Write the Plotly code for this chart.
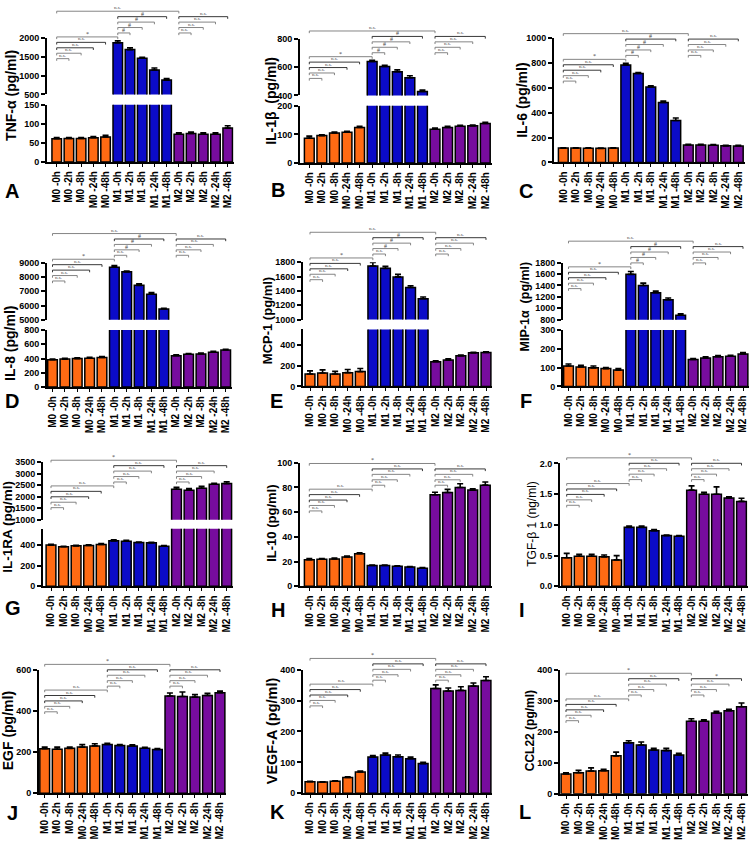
import plotly.graph_objects as go

W, H = 753, 842

categories = ["M0-0h", "M0-2h", "M0-8h", "M0-24h", "M0-48h",
              "M1-0h", "M1-2h", "M1-8h", "M1-24h", "M1-48h",
              "M2-0h", "M2-2h", "M2-8h", "M2-24h", "M2-48h"]
tick_labels = ["M0 -0h", "M0 -2h", "M0 -8h", "M0 -24h", "M0 -48h",
               "M1 -0h", "M1 -2h", "M1 -8h", "M1 -24h", "M1 -48h",
               "M2 -0h", "M2 -2h", "M2 -8h", "M2 -24h", "M2 -48h"]
group_colors = ["#FF6A13"] * 5 + ["#0B0BC8"] * 5 + ["#770C9E"] * 5

# ---- data (mean, error) ----
tnf_mean = [61, 62, 62, 64, 66, 1870, 1690, 1460, 1150, 880, 73, 75, 73, 73, 89]
tnf_err = [3, 2, 2, 3, 4, 50, 50, 25, 50, 40, 4, 4, 4, 4, 6]
il1b_mean = [87, 96, 105, 108, 124, 640, 605, 568, 525, 428, 118, 124, 129, 130, 138]
il1b_err = [7, 3, 3, 3, 4, 8, 8, 14, 14, 10, 4, 4, 3, 3, 4]
il6_mean = [115, 115, 114, 113, 115, 783, 714, 606, 482, 337, 140, 140, 138, 133, 132]
il6_err = [3, 3, 3, 3, 3, 12, 8, 10, 10, 20, 6, 5, 5, 5, 6]
il8_mean = [385, 393, 400, 405, 415, 8700, 8370, 7420, 6800, 5750, 440, 460, 465, 490, 520]
il8_err = [10, 12, 12, 12, 12, 120, 60, 100, 120, 60, 12, 12, 12, 12, 12]
mcp1_mean = [120, 130, 120, 133, 143, 1747, 1714, 1595, 1446, 1290, 238, 254, 295, 324, 327]
mcp1_err = [30, 30, 25, 30, 30, 50, 30, 35, 25, 25, 10, 12, 8, 6, 6]
mip1a_mean = [109, 104, 99, 95, 87, 1594, 1400, 1274, 1149, 880, 144, 152, 158, 161, 173]
mip1a_err = [10, 8, 10, 6, 8, 50, 40, 30, 30, 25, 5, 6, 7, 5, 8]
il1ra_mean = [397, 381, 390, 394, 403, 438, 435, 422, 419, 387, 2329, 2286, 2371, 2543, 2571]
il1ra_err = [8, 5, 6, 6, 8, 10, 8, 5, 5, 5, 80, 70, 80, 40, 80]
il10_mean = [21.6, 21.9, 22.1, 23.7, 26.4, 16.8, 16.8, 16.3, 15.7, 14.7, 74.1, 76.0, 80.0, 77.9, 81.9]
il10_err = [0.8, 0.6, 0.7, 0.8, 0.8, 0.5, 0.4, 0.4, 0.4, 0.4, 2.0, 2.5, 3.0, 1.0, 2.5]
tgfb1_mean = [0.466, 0.49, 0.49, 0.48, 0.43, 0.96, 0.96, 0.906, 0.826, 0.815, 1.566, 1.50, 1.50, 1.437, 1.383]
tgfb1_err = [0.07, 0.03, 0.03, 0.03, 0.07, 0.02, 0.02, 0.02, 0.01, 0.01, 0.07, 0.03, 0.12, 0.02, 0.05]
egf_mean = [216, 214, 218, 224, 230, 237, 232, 230, 219, 213, 472, 470, 467, 475, 488]
egf_err = [8, 10, 6, 12, 10, 5, 4, 5, 4, 4, 15, 22, 12, 10, 8]
vegfa_mean = [37, 36, 39, 51, 69, 117, 124, 118, 112, 96, 339, 331, 333, 347, 365]
vegfa_err = [2, 1, 1.5, 2, 3, 5, 6, 6, 5, 4, 12, 10, 12, 10, 12]
ccl22_mean = [64, 68, 74, 75, 123, 165, 158, 142, 140, 126, 235, 235, 262, 269, 282]
ccl22_err = [4, 8, 10, 4, 12, 7, 10, 5, 7, 5, 8, 5, 5, 5, 12]

# significance labels: [M0 within x4], M0->M1, [M1 within x4], [M2 within x4], M0->M2
sig_A = (["n.s."] * 4, "*", ["#"] * 4, ["n.s."] * 4, "n.s.")
sig_B = (["n.s."] * 4, "*", ["#"] * 4, ["n.s."] * 4, "n.s.")
sig_C = (["n.s."] * 4, "*", ["#"] * 4, ["n.s."] * 4, "n.s.")
sig_D = (["n.s."] * 4, "*", ["n.s.", "#", "#", "#"], ["n.s."] * 4, "n.s.")
sig_E = (["n.s."] * 4, "*", ["n.s.", "#", "#", "#"], ["n.s."] * 4, "n.s.")
sig_F = (["n.s."] * 4, "*", ["#"] * 4, ["n.s."] * 4, "n.s.")
sig_G = (["n.s."] * 4, "n.s.", ["n.s."] * 4, ["n.s."] * 4, "*")
sig_H = (["n.s."] * 4, "n.s.", ["n.s."] * 4, ["n.s."] * 4, "*")
sig_I = (["n.s."] * 4, "n.s.", ["n.s."] * 4, ["n.s."] * 4, "*")
sig_J = (["n.s."] * 4, "n.s.", ["n.s."] * 4, ["n.s."] * 4, "*")
sig_K = (["n.s."] * 4, "n.s.", ["n.s."] * 4, ["n.s."] * 4, "*")
sig_L = (["n.s."] * 4, "n.s.", ["n.s."] * 4, ["n.s.", "n.s.", "n.s.", "*"], "*")

panels = [
    dict(letter="A", title="TNF-α (pg/ml)", mean=tnf_mean, err=tnf_err, sig=sig_A,
         lower=(0, 150), lticks=[0, 50, 100, 150], upper=(500, 2000), uticks=[500, 1000, 1500, 2000],
         ax=47, c0=56.7, c14=227.7, yb=159, ylt=101, yub=90.5, yt=33.3, base=32.3,
         lpos=(12, 188), tpos=(11, 92), tsize=14, tbold=True),
    dict(letter="B", title="IL-1β  (pg/ml)", mean=il1b_mean, err=il1b_err, sig=sig_B,
         lower=(0, 200), lticks=[0, 100, 200], upper=(400, 800), uticks=[400, 600, 800],
         ax=300, c0=309.3, c14=485.3, yb=160, ylt=102, yub=91.5, yt=34.3, base=52.3,
         lpos=(278, 187), tpos=(271, 97), tsize=14, tbold=True),
    dict(letter="C", title="IL-6 (pg/ml)", mean=il6_mean, err=il6_err, sig=sig_C,
         lower=(0, 1000), lticks=[0, 200, 400, 600, 800, 1000], upper=None, uticks=None,
         ax=554, c0=563.3, c14=738.3, yb=159.3, yt=33.3, base=55,
         lpos=(526, 188), tpos=(522, 97), tsize=14, tbold=True),
    dict(letter="D", title="IL-8 (pg/ml)", mean=il8_mean, err=il8_err, sig=sig_D,
         lower=(0, 800), lticks=[0, 200, 400, 600, 800], upper=(5000, 9000),
         uticks=[5000, 6000, 7000, 8000, 9000],
         ax=47, c0=52.5, c14=225.7, yb=386.7, ylt=329, yub=318.5, yt=261, base=257.3,
         lpos=(12, 401), tpos=(10, 343), tsize=14, tbold=True),
    dict(letter="E", title="MCP-1 (pg/ml)", mean=mcp1_mean, err=mcp1_err, sig=sig_E,
         lower=(0, 550), lticks=[0, 200, 400], upper=(1000, 1800),
         uticks=[1000, 1200, 1400, 1600, 1800],
         ax=303, c0=310, c14=486, yb=386, ylt=328.3, yub=318.3, yt=260.3, base=256,
         lpos=(276, 401), tpos=(267, 320), tsize=13, tbold=True),
    dict(letter="F", title="MIP-1α  (pg/ml)", mean=mip1a_mean, err=mip1a_err, sig=sig_F,
         lower=(0, 300), lticks=[0, 100, 200, 300], upper=(800, 1800),
         uticks=[800, 1000, 1200, 1400, 1600, 1800],
         ax=563, c0=568.5, c14=743, yb=386, ylt=329, yub=318.5, yt=260.7, base=265,
         lpos=(526, 401), tpos=(525, 305), tsize=12.5, tbold=True),
    dict(letter="G", title="IL-1RA (pg/ml)", mean=il1ra_mean, err=il1ra_err, sig=sig_G,
         lower=(0, 555), lticks=[0, 200, 400], upper=(1000, 3500),
         uticks=[1000, 1500, 2000, 2500, 3000, 3500],
         ax=43, c0=51, c14=226.7, yb=588.3, ylt=530, yub=521, yt=462.7, base=486.7,
         lpos=(13, 610), tpos=(8, 528), tsize=13.5, tbold=True),
    dict(letter="H", title="IL-10 (pg/ml)", mean=il10_mean, err=il10_err, sig=sig_H,
         lower=(0, 100), lticks=[0, 20, 40, 60, 80, 100], upper=None, uticks=None,
         ax=300, c0=309.3, c14=485.3, yb=588.3, yt=463.3, base=490,
         lpos=(278, 612), tpos=(272, 525), tsize=13, tbold=True),
    dict(letter="I", title="TGF-β 1 (ng/ml)", mean=tgfb1_mean, err=tgfb1_err, sig=sig_I,
         lower=(0, 2), lticks=[0, 0.5, 1.0, 1.5, 2.0], upper=None, uticks=None,
         ax=560, c0=566.7, c14=741.5, yb=588.3, yt=464, base=484.3,
         lpos=(522, 612), tpos=(532, 525), tsize=12, tbold=False),
    dict(letter="J", title="EGF (pg/ml)", mean=egf_mean, err=egf_err, sig=sig_J,
         lower=(0, 600), lticks=[0, 200, 400, 600], upper=None, uticks=None,
         ax=39, c0=44.7, c14=220, yb=797.7, yt=672.7, base=693.3,
         lpos=(12, 818), tpos=(8, 735), tsize=14, tbold=True),
    dict(letter="K", title="VEGF-A (pg/ml)", mean=vegfa_mean, err=vegfa_err, sig=sig_K,
         lower=(0, 400), lticks=[0, 100, 200, 300, 400], upper=None, uticks=None,
         ax=303, c0=310, c14=486, yb=797.7, yt=672.7, base=687.3,
         lpos=(277, 817), tpos=(272, 735), tsize=14.5, tbold=True),
    dict(letter="L", title="CCL22 (pg/ml)", mean=ccl22_mean, err=ccl22_err, sig=sig_L,
         lower=(0, 400), lticks=[0, 100, 200, 300, 400], upper=None, uticks=None,
         ax=560, c0=566, c14=741.5, yb=798.3, yt=673.3, base=702.3,
         lpos=(525, 817), tpos=(530, 735), tsize=12, tbold=True),
]

FONT = "Liberation Sans, Arial, sans-serif"


def px_x(v):
    return v / W


def px_y(v):
    return 1 - v / H


fig = go.Figure()
layout = dict(width=W, height=H, margin=dict(l=0, r=0, t=0, b=0),
              plot_bgcolor="white", paper_bgcolor="white", showlegend=False,
              bargap=0.2, font=dict(family=FONT, color="black"))
shapes, annotations = [], []

yidx = 0
for n, p in enumerate(panels, start=1):
    slot = (p["c14"] - p["c0"]) / 14
    r0 = -(p["c0"] - p["ax"]) / slot
    r1 = 14.5
    xdom = [px_x(p["ax"]), min(1.0, px_x(p["c14"] + slot / 2))]
    xname = "x" if n == 1 else f"x{n}"
    xkey = "xaxis" if n == 1 else f"xaxis{n}"

    fmt_tick = (lambda v: f"{v:.1f}") if p["letter"] == "I" else (lambda v: f"{v:g}")

    yidx += 1
    ylow = "y" if yidx == 1 else f"y{yidx}"
    ylowkey = "yaxis" if yidx == 1 else f"yaxis{yidx}"
    top_px = p["ylt"] if p["upper"] else p["yt"]
    axis_common = dict(showline=True, linewidth=2, linecolor="black", ticks="outside",
                       ticklen=4, tickwidth=1.6, tickcolor="black", showgrid=False,
                       zeroline=False, fixedrange=True,
                       tickfont=dict(family=FONT, size=9, weight="bold", color="black"))
    layout[ylowkey] = dict(domain=[px_y(p["yb"]), px_y(top_px)], range=list(p["lower"]),
                           anchor=xname, tickmode="array", tickvals=p["lticks"],
                           ticktext=[fmt_tick(v) for v in p["lticks"]], **axis_common)
    layout[xkey] = dict(domain=xdom, range=[r0, r1], anchor=ylow, type="category",
                        categoryorder="array", categoryarray=categories,
                        tickmode="array", tickvals=categories, ticktext=tick_labels,
                        tickangle=-90, showline=True, linewidth=2, linecolor="black",
                        ticks="outside", ticklen=3, tickwidth=1.4, tickcolor="black",
                        showgrid=False, zeroline=False, fixedrange=True,
                        tickfont=dict(family=FONT, size=10, weight="bold", color="black"))

    bar_kw = dict(x=categories, y=p["mean"], width=0.78,
                  marker=dict(color=group_colors, line=dict(color="black", width=1.5)),
                  error_y=dict(type="data", array=p["err"], symmetric=False,
                               arrayminus=[0] * 15, color="black", thickness=1.6, width=3),
                  hoverinfo="skip")
    fig.add_trace(go.Bar(xaxis=xname, yaxis=ylow, **bar_kw))

    if p["upper"]:
        yidx += 1
        yup = f"y{yidx}"
        layout[f"yaxis{yidx}"] = dict(domain=[px_y(p["yub"]), px_y(p["yt"])],
                                      range=list(p["upper"]), anchor=xname,
                                      tickmode="array", tickvals=p["uticks"],
                                      ticktext=[fmt_tick(v) for v in p["uticks"]],
                                      **axis_common)
        fig.add_trace(go.Bar(xaxis=xname, yaxis=yup, **bar_kw))

    def xd(k):
        return (k - r0) / (r1 - r0)

    s = 5.5
    base = p["base"]
    m0_in, m0_m1, m1_in, m2_in, m0_m2 = p["sig"]
    brackets = []
    for k in range(1, 5):
        brackets.append((0, k, base + s * (5 - k), m0_in[k - 1], k >= 3))
        brackets.append((5, 5 + k, base - 4 - s * (k - 1), m1_in[k - 1], k == 4))
        brackets.append((10, 10 + k, base - 4 - s * (k - 1), m2_in[k - 1], k == 4))
    brackets.append((0, 5, base, m0_m1, False))
    brackets.append((0, 10, base - 26, m0_m2, False))

    xref = f"{xname} domain"
    for (i, j, ypx, lab, dark) in brackets:
        x0, x1 = xd(i), xd(j)
        yv = px_y(ypx)
        yt2 = px_y(ypx + 2.2)
        shapes.append(dict(type="path", xref=xref, yref="paper",
                           path=f"M{x0:.5f},{yt2:.5f} L{x0:.5f},{yv:.5f} L{x1:.5f},{yv:.5f} L{x1:.5f},{yt2:.5f}",
                           line=dict(color="#222" if dark else "#777", width=0.9)))
        is_star = lab in ("*", "#")
        annotations.append(dict(xref=xref, yref="paper", x=(x0 + x1) / 2, y=yv,
                                text=lab, showarrow=False, xanchor="center", yanchor="bottom",
                                yshift=-2 if is_star else -1,
                                font=dict(family="Liberation Serif, serif",
                                          size=6 if is_star else 5, color="#444")))

    annotations.append(dict(xref="paper", yref="paper", x=px_x(p["tpos"][0]), y=px_y(p["tpos"][1]),
                            text=p["title"], textangle=-90, showarrow=False,
                            xanchor="center", yanchor="middle",
                            font=dict(family=FONT, size=p["tsize"],
                                      weight="bold" if p["tbold"] else "normal", color="black")))
    annotations.append(dict(xref="paper", yref="paper", x=px_x(p["lpos"][0]), y=px_y(p["lpos"][1]),
                            text=p["letter"], showarrow=False, xanchor="center", yanchor="middle",
                            font=dict(family=FONT, size=20, weight="bold", color="black")))

layout["shapes"] = shapes
layout["annotations"] = annotations
fig.update_layout(**layout)
fig.write_html("out.html", config={"displayModeBar": False},
               post_script="document.body.style.margin='0px';document.body.style.overflow='hidden';")
